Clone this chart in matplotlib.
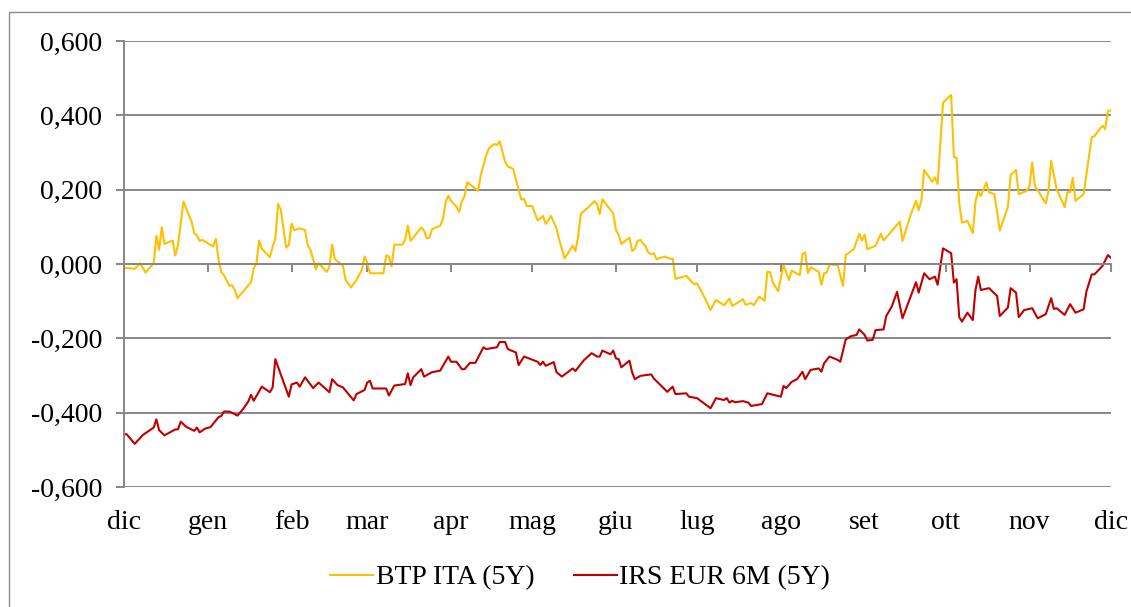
import matplotlib
matplotlib.use('Agg')
import matplotlib.pyplot as plt
from matplotlib.patches import Rectangle
from matplotlib.lines import Line2D
import pandas as pd

plt.rcParams['font.family'] = ['Liberation Serif', 'DejaVu Serif']

# data: days since 1 Dec 2020 and daily values
start = pd.Timestamp('2020-12-01')
end = pd.Timestamp('2021-12-01')

btp_days = [0, 4, 6, 8, 11, 12, 13, 14, 15, 18,
            19, 20, 22, 25, 26, 27, 28, 29, 33, 34,
            35, 36, 37, 39, 40, 41, 42, 44, 47, 48,
            49, 50, 51, 54, 55, 56, 57, 58, 59, 60,
            61, 62, 63, 65, 67, 68, 69, 71, 72, 75,
            76, 77, 78, 81, 82, 84, 86, 88, 89, 90,
            91, 96, 97, 98, 99, 100, 103, 104, 105, 106,
            110, 111, 112, 113, 114, 117, 118, 119, 120, 121,
            123, 124, 125, 126, 127, 131, 132, 134, 135, 137,
            138, 139, 141, 142, 144, 146, 147, 148, 149, 151,
            153, 155, 156, 158, 160, 161, 163, 166, 167, 168,
            169, 172, 174, 175, 176, 177, 181, 182, 183, 184,
            187, 188, 189, 190, 191, 193, 194, 195, 196, 197,
            200, 202, 203, 204, 208, 210, 211, 212, 215, 217,
            219, 222, 224, 225, 229, 230, 232, 233, 235, 237,
            238, 239, 240, 242, 244, 246, 247, 250, 251, 252,
            253, 254, 257, 258, 259, 260, 261, 264, 266, 267,
            270, 272, 273, 274, 275, 278, 280, 281, 287, 288,
            291, 293, 294, 295, 296, 299, 300, 301, 303, 306,
            307, 308, 309, 310, 312, 314, 315, 316, 317, 319,
            320, 322, 324, 327, 328, 330, 331, 334, 335, 336,
            337, 341, 342, 343, 345, 348, 349, 350, 351, 352,
            355, 358, 359, 362, 363, 364, 366]
btp_vals = [-0.010, -0.013, 0.002, -0.023, 0.002, 0.076, 0.038, 0.099, 0.054, 0.063,
            0.023, 0.051, 0.168, 0.114, 0.083, 0.077, 0.062, 0.065, 0.047, 0.068,
            0.011, -0.022, -0.030, -0.059, -0.057, -0.070, -0.092, -0.075, -0.049, -0.012,
            0.002, 0.063, 0.041, 0.018, 0.047, 0.069, 0.161, 0.147, 0.096, 0.044,
            0.051, 0.109, 0.091, 0.096, 0.091, 0.050, 0.038, -0.014, 0.002, -0.021,
            -0.007, 0.052, 0.013, -0.005, -0.043, -0.063, -0.043, -0.016, 0.020, 0.004,
            -0.025, -0.025, 0.023, 0.020, -0.007, 0.052, 0.052, 0.065, 0.103, 0.062,
            0.098, 0.090, 0.069, 0.071, 0.094, 0.103, 0.121, 0.166, 0.184, 0.170,
            0.154, 0.140, 0.169, 0.183, 0.220, 0.197, 0.239, 0.293, 0.311, 0.323,
            0.320, 0.330, 0.275, 0.262, 0.256, 0.199, 0.174, 0.175, 0.156, 0.156,
            0.117, 0.129, 0.108, 0.129, 0.096, 0.066, 0.015, 0.049, 0.035, 0.073,
            0.135, 0.154, 0.169, 0.161, 0.134, 0.174, 0.136, 0.091, 0.078, 0.054,
            0.071, 0.035, 0.041, 0.061, 0.065, 0.047, 0.030, 0.027, 0.029, 0.013,
            0.020, 0.014, 0.015, -0.040, -0.032, -0.048, -0.054, -0.052, -0.093, -0.124,
            -0.097, -0.111, -0.093, -0.113, -0.095, -0.110, -0.105, -0.111, -0.088, -0.099,
            -0.021, -0.022, -0.049, -0.073, -0.003, -0.043, -0.018, -0.030, 0.027, 0.031,
            -0.025, -0.009, -0.021, -0.056, -0.025, -0.023, -0.001, -0.003, -0.059, 0.024,
            0.040, 0.081, 0.063, 0.079, 0.040, 0.049, 0.081, 0.063, 0.114, 0.062,
            0.132, 0.170, 0.145, 0.172, 0.253, 0.221, 0.233, 0.215, 0.434, 0.455,
            0.289, 0.286, 0.163, 0.111, 0.116, 0.083, 0.168, 0.195, 0.183, 0.219,
            0.193, 0.188, 0.090, 0.154, 0.239, 0.253, 0.188, 0.197, 0.210, 0.273,
            0.210, 0.163, 0.197, 0.278, 0.201, 0.153, 0.193, 0.193, 0.232, 0.170,
            0.188, 0.341, 0.344, 0.372, 0.363, 0.412, 0.414]

irs_days = [0, 1, 4, 7, 11, 12, 13, 15, 19, 20,
            21, 23, 26, 27, 28, 30, 32, 35, 36, 37,
            39, 42, 44, 46, 47, 48, 51, 54, 55, 56,
            58, 61, 62, 64, 65, 67, 70, 72, 76, 77,
            79, 81, 85, 86, 89, 90, 91, 92, 97, 98,
            100, 104, 105, 106, 107, 110, 111, 114, 117, 118,
            120, 121, 123, 125, 126, 128, 130, 133, 134, 138,
            139, 141, 142, 145, 146, 148, 153, 154, 155, 156,
            159, 160, 162, 166, 167, 170, 173, 175, 176, 177,
            180, 181, 182, 183, 184, 187, 188, 189, 191, 195,
            196, 201, 203, 204, 208, 209, 212, 217, 219, 222,
            223, 224, 225, 226, 229, 231, 232, 236, 238, 243,
            244, 245, 247, 249, 251, 252, 254, 257, 258, 259,
            261, 264, 265, 267, 269, 271, 272, 274, 275, 277,
            278, 281, 282, 284, 286, 288, 293, 294, 296, 298,
            300, 301, 302, 303, 306, 307, 308, 309, 310, 312,
            314, 315, 316, 317, 320, 323, 324, 327, 328, 330,
            331, 333, 336, 338, 341, 343, 344, 345, 348, 350,
            352, 355, 356, 358, 359, 362, 364, 365, 366]
irs_vals = [-0.458, -0.458, -0.484, -0.460, -0.440, -0.418, -0.447, -0.461, -0.445, -0.445,
            -0.424, -0.438, -0.449, -0.440, -0.453, -0.443, -0.439, -0.412, -0.409, -0.397,
            -0.397, -0.408, -0.391, -0.370, -0.352, -0.368, -0.330, -0.345, -0.332, -0.256,
            -0.297, -0.357, -0.324, -0.319, -0.330, -0.305, -0.334, -0.319, -0.345, -0.310,
            -0.326, -0.332, -0.367, -0.350, -0.339, -0.319, -0.314, -0.335, -0.335, -0.354,
            -0.327, -0.323, -0.294, -0.326, -0.305, -0.283, -0.303, -0.291, -0.287, -0.274,
            -0.249, -0.263, -0.263, -0.283, -0.283, -0.266, -0.266, -0.224, -0.229, -0.224,
            -0.210, -0.210, -0.229, -0.238, -0.272, -0.249, -0.263, -0.272, -0.263, -0.274,
            -0.264, -0.291, -0.303, -0.281, -0.288, -0.260, -0.240, -0.249, -0.249, -0.233,
            -0.243, -0.233, -0.254, -0.256, -0.278, -0.260, -0.292, -0.310, -0.301, -0.297,
            -0.308, -0.344, -0.330, -0.350, -0.348, -0.357, -0.361, -0.388, -0.361, -0.366,
            -0.361, -0.373, -0.368, -0.372, -0.369, -0.373, -0.382, -0.377, -0.348, -0.357,
            -0.328, -0.334, -0.317, -0.310, -0.290, -0.310, -0.285, -0.281, -0.290, -0.267,
            -0.249, -0.258, -0.263, -0.203, -0.194, -0.191, -0.176, -0.191, -0.206, -0.204,
            -0.178, -0.176, -0.140, -0.115, -0.075, -0.146, -0.049, -0.077, -0.025, -0.041,
            -0.034, -0.056, -0.007, 0.042, 0.029, -0.050, -0.041, -0.143, -0.155, -0.131,
            -0.151, -0.070, -0.034, -0.070, -0.065, -0.086, -0.140, -0.117, -0.065, -0.077,
            -0.143, -0.124, -0.119, -0.146, -0.135, -0.092, -0.121, -0.119, -0.137, -0.108,
            -0.131, -0.122, -0.075, -0.028, -0.028, -0.005, 0.024, 0.017, 0.018]

months = ['dic', 'gen', 'feb', 'mar', 'apr', 'mag', 'giu', 'lug', 'ago', 'set', 'ott', 'nov', 'dic']
yticks = [-0.6, -0.4, -0.2, 0.0, 0.2, 0.4, 0.6]
series_names = ['BTP ITA (5Y)', 'IRS EUR 6M (5Y)']

btp_dates = start + pd.to_timedelta(btp_days, unit='D')
irs_dates = start + pd.to_timedelta(irs_days, unit='D')
month_starts = pd.date_range(start, end, freq='MS')

gray = '#878787'
yellow = '#FFC000'
red = '#C00000'

fig = plt.figure(figsize=(11.31, 6.07), dpi=100)
ax = fig.add_axes([0.1096, 0.1977, 0.8724, 0.7348])

ax.plot(btp_dates, btp_vals, color=yellow, lw=1.5)
ax.plot(irs_dates, irs_vals, color=red, lw=1.5)

ax.set_xlim(start, end)
ax.set_ylim(-0.6, 0.6)
ax.set_yticks(yticks)
ax.set_yticklabels([('%.3f' % v).replace('.', ',').replace('-0,000', '0,000') for v in yticks])
ax.yaxis.grid(True, color=gray, lw=1.4)
ax.tick_params(axis='y', length=5.5, width=1.4, color=gray, labelsize=20, pad=10)

ax.set_xticks(month_starts)
ax.tick_params(axis='x', direction='out', length=5.5, width=1.4, color=gray, labelbottom=False)
for d, lab in zip(month_starts, months):
    ax.text(d, -0.094, lab, transform=ax.get_xaxis_transform(), ha='center',
            va='baseline', fontsize=20)

for s in ['top', 'right']:
    ax.spines[s].set_visible(False)
ax.spines['bottom'].set_position(('data', 0))
ax.spines['bottom'].set_color(gray)
ax.spines['bottom'].set_linewidth(1.4)
ax.spines['left'].set_color(gray)
ax.spines['left'].set_linewidth(1.4)

# chart area border
fig.patches.append(Rectangle((9 / 1131, -0.1), 1.2, 1.1 - 11.5 / 607, transform=fig.transFigure,
                             fill=False, edgecolor='#8c8c8c', lw=1.0))

handles = [Line2D([], [], color=yellow, lw=1.5), Line2D([], [], color=red, lw=1.5)]
fig.legend(handles, series_names, loc='center', bbox_to_anchor=(0.513, 0.048), ncol=2,
           frameon=False, fontsize=20, handlelength=1.55, handletextpad=0.1, columnspacing=1.4)

fig.savefig('out.png', dpi=100)
